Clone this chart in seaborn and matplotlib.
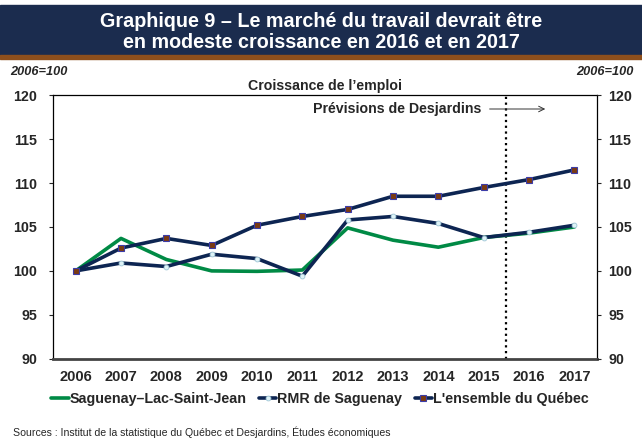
from matplotlib import pyplot as plt
import seaborn as sns
import numpy as np
import pandas as pd

sns.set_style("white")
plt.rcParams['font.family'] = ['Liberation Sans', 'DejaVu Sans']

years = list(range(2006, 2018))
saguenay_lsj = [100.0, 103.7, 101.3, 100.0, 99.95, 100.1, 104.9, 103.5, 102.7, 103.8, 104.3, 105.0]
rmr_saguenay = [100.0, 100.9, 100.5, 101.9, 101.4, 99.4, 105.8, 106.2, 105.4, 103.8, 104.4, 105.2]
quebec = [100.0, 102.6, 103.7, 102.9, 105.2, 106.2, 107.0, 108.5, 108.5, 109.5, 110.4, 111.5]

navy = "#0d2552"
green = "#008a45"

fig = plt.figure(figsize=(6.42, 4.38), dpi=100)
ax = fig.add_axes([53/642, 1-358.7/438, 544/642, 263.4/438])

#============= title banner ==============
fig.patches.append(plt.Rectangle((0, 1-55/438), 1, 50/438, transform=fig.transFigure,
                                 color="#1b2c4e", zorder=0))
fig.patches.append(plt.Rectangle((0, 1-59/438), 1, 4/438, transform=fig.transFigure,
                                 color="#8e4f1c", zorder=0))
fig.text(0.5, 1-32/438, "Graphique 9 \u2013 Le march\u00e9 du travail devrait \u00eatre\nen modeste croissance en 2016 et en 2017",
         ha="center", va="center", color="white", fontsize=14.2, fontweight="bold", linespacing=1.1)

#============= lines ==============
df = pd.DataFrame({"year": years, "slsj": saguenay_lsj, "rmr": rmr_saguenay, "qc": quebec})

sns.lineplot(data=df, x="year", y="slsj", ax=ax, color=green, linewidth=2.6,
             label="Saguenay\u2013Lac-Saint-Jean", zorder=3)
sns.lineplot(data=df, x="year", y="rmr", ax=ax, color=navy, linewidth=2.6, marker="o",
             markersize=3.5, markerfacecolor="#dff3f7", markeredgecolor="#9fc6d6",
             markeredgewidth=0.6, label="RMR de Saguenay", zorder=4)
sns.lineplot(data=df, x="year", y="qc", ax=ax, color=navy, linewidth=2.6, marker="s",
             markersize=4.5, markerfacecolor="#7a3a12", markeredgecolor="#3c3ca8",
             markeredgewidth=0.8, label="L'ensemble du Qu\u00e9bec", zorder=5)

ax.axvline(2015.5, color="black", linestyle=(0, (1, 1.6)), linewidth=1.6, zorder=2)

ax.set_xlim(2005.5, 2017.5)
ax.set_ylim(90, 120)
ax.set_xticks(years)
ax.set_yticks(range(90, 121, 5))
ax.tick_params(axis="x", length=0, labelsize=10.5, pad=8)
ax.tick_params(axis="y", length=3, direction="out", labelsize=10.3, pad=8.5, left=True)
for lbl in ax.get_xticklabels() + ax.get_yticklabels():
    lbl.set_fontweight("bold")
ax.set_xlabel("")
ax.set_ylabel("")
for s in ax.spines.values():
    s.set_color("black")
    s.set_linewidth(0.9)
ax.spines["bottom"].set_color("#444444")
ax.spines["bottom"].set_linewidth(2)

ax2 = ax.twinx()
ax2.set_ylim(90, 120)
ax2.set_yticks(range(90, 121, 5))
ax2.tick_params(axis="y", length=3, direction="out", labelsize=10.3, pad=5, right=True)
for lbl in ax2.get_yticklabels():
    lbl.set_fontweight("bold")
for s in ax2.spines.values():
    s.set_visible(False)

ax.text(0.5, 1.01, "Croissance de l\u2019emploi", transform=ax.transAxes, ha="center",
        va="bottom", fontsize=10.2, fontweight="bold")
ax.text(2011.24, 118.44, "Pr\u00e9visions de Desjardins", ha="left", va="center",
        fontsize=10.2, fontweight="bold")
ax.annotate("", xy=(2016.42, 118.44), xytext=(2015.07, 118.44),
            arrowprops=dict(arrowstyle="->", color="#333333", linewidth=0.7))

fig.text(10/642, 1-72/438, "2006=100", ha="left", va="center", fontsize=9.2,
         fontweight="bold", fontstyle="italic")
fig.text(634/642, 1-72/438, "2006=100", ha="right", va="center", fontsize=9.2,
         fontweight="bold", fontstyle="italic")

leg = ax.legend(loc="center", bbox_to_anchor=(0.5 - 5/544, -40.5/263.4), ncol=3, frameon=False,
                fontsize=10.3, handlelength=1.2, handletextpad=0.05, columnspacing=0.9)
for t in leg.get_texts():
    t.set_fontweight("bold")

fig.text(13/642, 1-432/438, "Sources : Institut de la statistique du Qu\u00e9bec et Desjardins, \u00c9tudes \u00e9conomiques",
         ha="left", va="center", fontsize=7.6)

plt.savefig("out.png", dpi=100)
